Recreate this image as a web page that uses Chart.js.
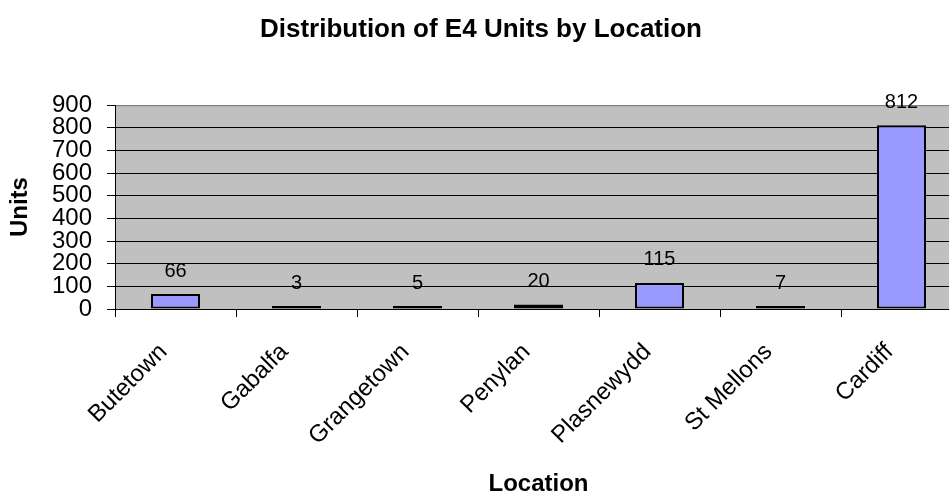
<!DOCTYPE html>
<html>
<head>
<meta charset="utf-8">
<script src="https://cdn.jsdelivr.net/npm/chart.js@4.4.1/dist/chart.umd.min.js"></script>
<style>
html,body{margin:0;padding:0;background:#fff;overflow:hidden;width:949px;height:493px;}
canvas{display:block;}
</style>
</head>
<body>
<canvas id="c" width="962" height="493"></canvas>
<script>
const categories = ["Butetown", "Gabalfa", "Grangetown", "Penylan", "Plasnewydd", "St Mellons", "Cardiff"];
const units = [66, 3, 5, 20, 115, 7, 812];
const yTicks = [0, 100, 200, 300, 400, 500, 600, 700, 800, 900];

const FONT = "'Liberation Sans', Arial, sans-serif";

const plotBg = {
  id: 'plotBg',
  beforeDraw(chart) {
    const {ctx, chartArea: a} = chart;
    ctx.save();
    ctx.fillStyle = '#C0C0C0';
    ctx.fillRect(a.left, a.top, a.right - a.left, a.bottom - a.top);
    ctx.strokeStyle = '#808080';
    ctx.lineWidth = 1;
    ctx.beginPath();
    ctx.moveTo(a.left, a.top + 0.5);
    ctx.lineTo(a.right - 0.5, a.top + 0.5);
    ctx.lineTo(a.right - 0.5, a.bottom);
    ctx.stroke();
    ctx.restore();
  }
};

const valueLabels = {
  id: 'valueLabels',
  afterDatasetsDraw(chart) {
    const {ctx} = chart;
    const meta = chart.getDatasetMeta(0);
    const data = chart.data.datasets[0].data;
    ctx.save();
    ctx.fillStyle = '#000';
    ctx.font = "20px " + FONT;
    ctx.textAlign = 'center';
    ctx.textBaseline = 'middle';
    meta.data.forEach((bar, i) => {
      ctx.fillText(String(data[i]), bar.x, bar.y - 23);
    });
    ctx.restore();
  }
};

new Chart(document.getElementById('c'), {
  type: 'bar',
  data: {
    labels: categories,
    datasets: [{
      label: 'Units',
      data: units,
      backgroundColor: '#9999FF',
      borderColor: '#000000',
      borderWidth: 2,
      borderSkipped: false,
      minBarLength: 3,
      barPercentage: 0.405,
      categoryPercentage: 1.0
    }]
  },
  options: {
    responsive: false,
    animation: false,
    events: [],
    layout: { padding: 0 },
    plugins: {
      legend: { display: false },
      tooltip: { enabled: false },
      title: {
        display: true,
        text: 'Distribution of E4 Units by Location',
        color: '#000',
        font: { family: FONT, size: 26, weight: 'bold', lineHeight: 1.2 },
        padding: { top: 14, bottom: 60 }
      }
    },
    scales: {
      x: {
        offset: true,
        grid: {
          offset: true,
          drawOnChartArea: false,
          drawTicks: true,
          tickLength: 8,
          color: '#000'
        },
        border: { display: true, color: '#000', width: 1 },
        ticks: {
          color: '#000',
          font: { family: FONT, size: 24 },
          maxRotation: 45,
          minRotation: 45,
          autoSkip: false,
          padding: 21,
          labelOffset: -12
        },
        title: {
          display: true,
          text: 'Location',
          color: '#000',
          font: { family: FONT, size: 24, weight: 'bold', lineHeight: 0.75 },
          padding: { top: 0, bottom: 0 }
        },
        afterFit(scale) { scale.height = 184; }
      },
      y: {
        min: 0,
        max: 900,
        afterBuildTicks(scale) { scale.ticks = yTicks.map(v => ({ value: v })); },
        grid: {
          color: (c) => (c.tick && c.tick.value === 900) ? '#808080' : '#000',
          tickColor: '#000',
          tickLength: 8,
          lineWidth: 1
        },
        border: { display: true, color: '#000', width: 1 },
        ticks: {
          color: '#000',
          font: { family: FONT, size: 24, lineHeight: 1 },
          padding: 15,
          autoSkip: false
        },
        title: {
          display: true,
          text: 'Units',
          color: '#000',
          font: { family: FONT, size: 24, weight: 'bold', lineHeight: 1.2 },
          padding: { top: 6, bottom: 0 }
        },
        afterFit(scale) { scale.width = 115; }
      }
    }
  },
  plugins: [plotBg, valueLabels]
});
</script>
</body>
</html>
